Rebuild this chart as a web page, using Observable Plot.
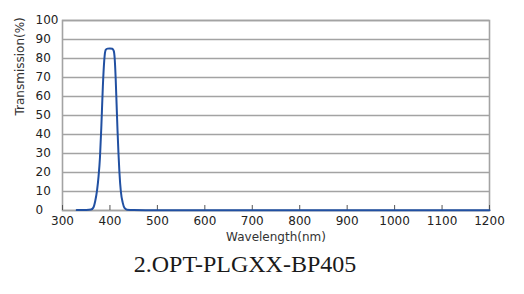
<!DOCTYPE html>
<html><head><meta charset="utf-8">
<script src="https://cdn.jsdelivr.net/npm/d3@7"></script>
<script src="https://cdn.jsdelivr.net/npm/@observablehq/plot@0.6"></script>
<style>
body{margin:0;background:#fff;}
#title{font-family:"Liberation Serif","Times New Roman",serif;font-size:24px;color:#1a1a1a;width:490px;text-align:center;line-height:26px;margin-top:1px;}
</style>
</head><body>
<div id="chart"></div>
<div id="title">2.OPT-PLGXX-BP405</div>
<script>
const wavelength   = [330, 350, 360, 365, 369, 373, 376, 379, 382, 385, 388, 391, 395, 400, 405, 408, 410, 412, 414, 416, 418, 420, 423, 427, 431, 436, 450, 500, 600, 800, 1000, 1200];
const transmission = [0.2, 0.3, 0.5, 1.5, 5, 11, 18, 28, 45, 65, 79, 84.5, 85.2, 85.3, 85.1, 84, 80, 70, 56, 42, 30, 20, 10, 4, 1.2, 0.4, 0.2, 0.1, 0.1, 0.1, 0.1, 0.1];
const xTicks = [300, 400, 500, 600, 700, 800, 900, 1000, 1100, 1200];
const yTicks = [0, 10, 20, 30, 40, 50, 60, 70, 80, 90, 100];
const xLabel = "Wavelength(nm)";
const yLabel = "Transmission(%)";

const data = wavelength.map((w, i) => ({w, t: transmission[i]}));
const grid = "#a3a3a3";

const chart = Plot.plot({
  width: 524,
  height: 250,
  marginLeft: 62,
  marginRight: 35,
  marginTop: 20,
  marginBottom: 40,
  style: {fontFamily: "DejaVu Sans", fontSize: "12px", color: "#222", background: "#fff"},
  x: {domain: [300, 1200]},
  y: {domain: [0, 100]},
  marks: [
    Plot.ruleY(yTicks, {stroke: grid, strokeWidth: 1.6}),
    Plot.frame({stroke: grid, strokeWidth: 1.6}),
    Plot.axisX(xTicks, {tickSize: -5, stroke: "#555", text: null, label: null}),
    Plot.axisX(xTicks, {tickSize: 0, tickPadding: 6, tickFormat: d => String(d), label: null, fill: "#222"}),
    Plot.axisY(yTicks, {tickSize: 0, tickPadding: 27, textAnchor: "start", tickFormat: d => String(d), label: null, fill: "#222"}),
    Plot.line(data, {x: "w", y: "t", stroke: "#2150a2", strokeWidth: 2, curve: "monotone-x"}),
    Plot.text([yLabel], {frameAnchor: "left", rotate: -90, dx: -42, fill: "#333", fontSize: 12}),
    Plot.text([xLabel], {frameAnchor: "bottom", dy: 30, fill: "#333", fontSize: 12})
  ]
});
document.getElementById("chart").append(chart);
</script>
</body></html>
